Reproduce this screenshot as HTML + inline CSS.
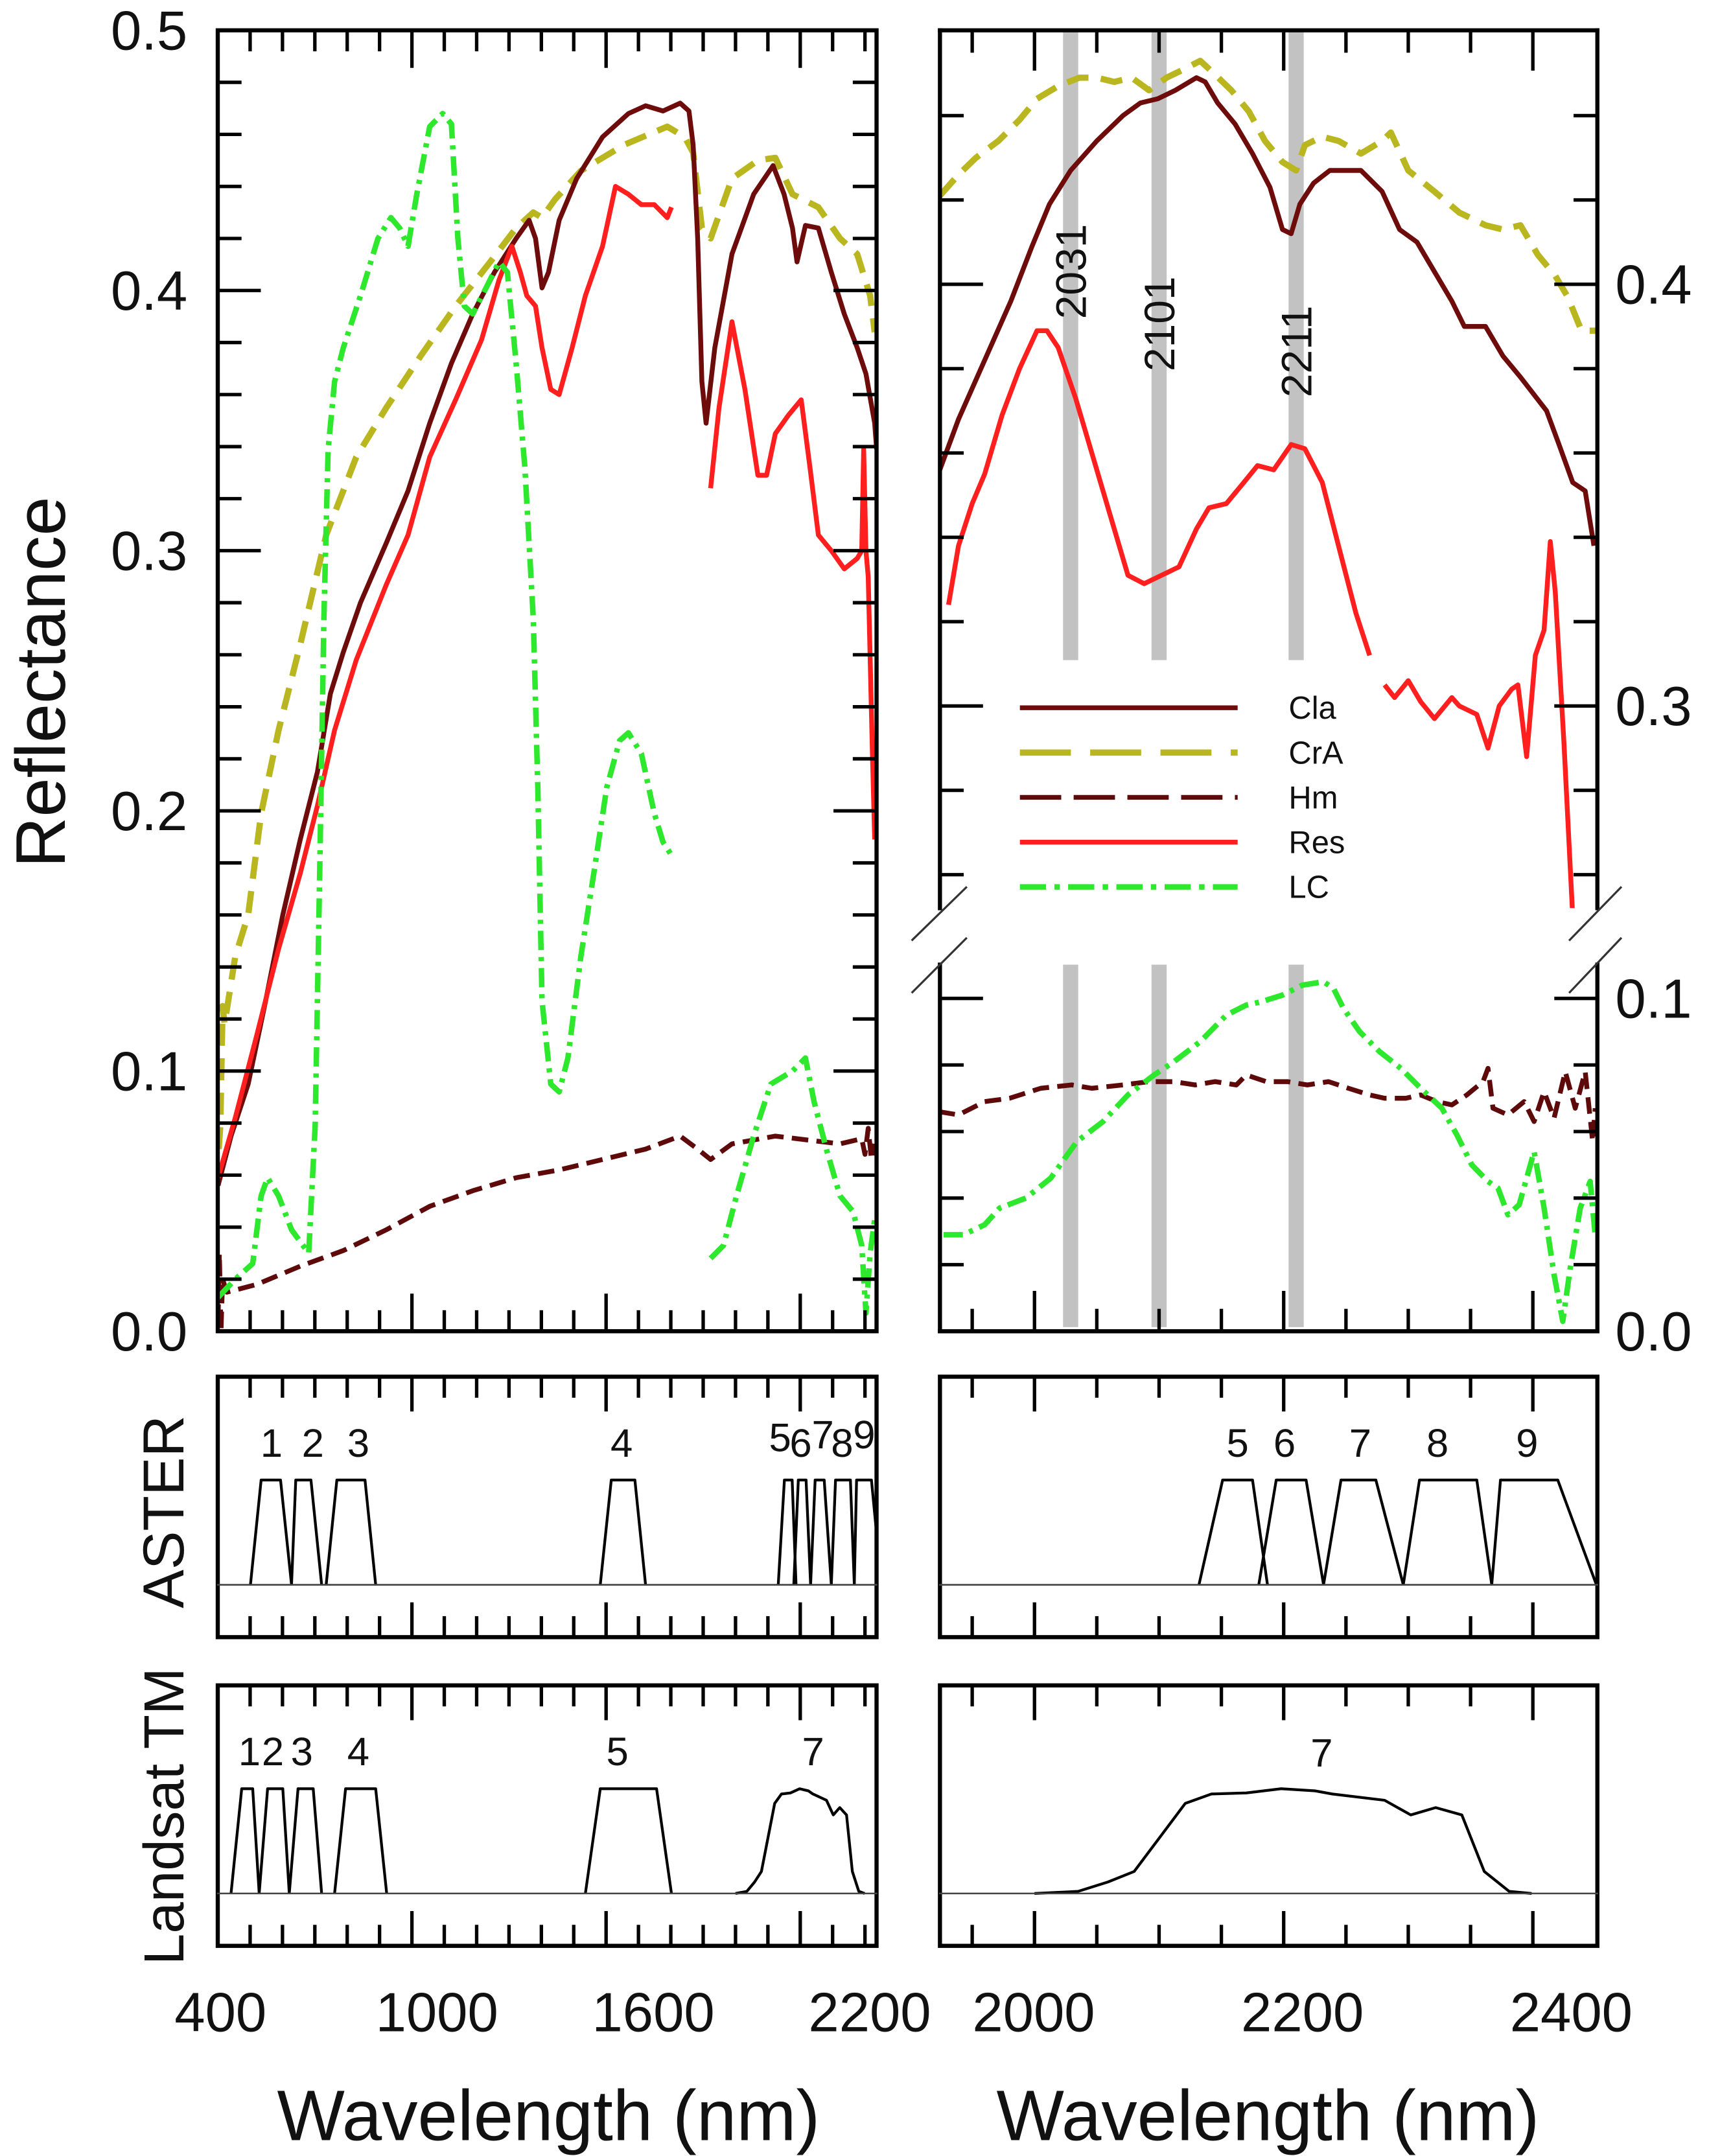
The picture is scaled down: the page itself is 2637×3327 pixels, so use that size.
<!DOCTYPE html>
<html>
<head>
<meta charset="utf-8">
<style>
  html,body{margin:0;padding:0;background:#fff;}
  svg{display:block;}
  text{font-family:"Liberation Sans", Arial, sans-serif;fill:#111;}
</style>
</head>
<body>
<svg id="chart" xmlns="http://www.w3.org/2000/svg" width="2637" height="3327" viewBox="0 0 1240 1564.5" preserveAspectRatio="none">
  <defs>
    <clipPath id="clipL"><rect x="158" y="22" width="478" height="944"/></clipPath>
    <clipPath id="clipRU"><rect x="682" y="22" width="477" height="637"/></clipPath>
    <clipPath id="clipRL"><rect x="682" y="700" width="477" height="266"/></clipPath>
    <clipPath id="clipAL"><rect x="158" y="999" width="478" height="189"/></clipPath>
    <clipPath id="clipAR"><rect x="682" y="999" width="477" height="189"/></clipPath>
    <clipPath id="clipTL"><rect x="158" y="1223" width="478" height="189"/></clipPath>
    <clipPath id="clipTR"><rect x="682" y="1223" width="477" height="189"/></clipPath>
  </defs>
  <g id="bars"></g>
  <g id="series"></g>
  <g id="bands"></g>
  <g id="axes"></g>
  <g id="labels">
    <text x="0" y="0" font-size="51" text-anchor="middle" transform="translate(47,495) rotate(-90)">Reflectance</text>
    <text x="0" y="0" font-size="42" text-anchor="middle" transform="translate(133,1097) rotate(-90)">ASTER</text>
    <text x="0" y="0" font-size="41" text-anchor="middle" transform="translate(133,1318) rotate(-90)">Landsat TM</text>
    <text x="398" y="1553" font-size="52" text-anchor="middle">Wavelength (nm)</text>
    <text x="920" y="1553" font-size="52" text-anchor="middle">Wavelength (nm)</text>
  </g>
  <g id="legend"></g>
</svg>
<script>
// ---------- data: left panel (wavelength nm, reflectance) ----------
const claLeft = [[401,.056],[441,.075],[494,.095],[548,.127],[601,.160],[655,.189],[708,.215],[748,.245],[788,.261],[841,.280],[921,.303],[988,.323],[1055,.349],[1122,.372],[1188,.391],[1255,.407],[1322,.420],[1362,.427],[1382,.420],[1402,.401],[1422,.407],[1455,.427],[1509,.443],[1589,.459],[1669,.468],[1722,.471],[1776,.469],[1829,.472],[1856,.469],[1869,.456],[1883,.420],[1896,.365],[1909,.349],[1936,.378],[1989,.414],[2056,.437],[2116,.448],[2150,.437],[2176,.424],[2190,.411],[2216,.425],[2256,.424],[2296,.407],[2336,.391],[2376,.378],[2403,.368],[2430,.349],[2436,.339]];
const craLeft = [[403,.07],[408,.079],[415,.125],[421,.118],[454,.144],[494,.160],[534,.199],[588,.231],[655,.264],[735,.306],[828,.336],[921,.355],[1028,.375],[1135,.394],[1242,.411],[1322,.424],[1375,.430],[1402,.428],[1442,.435],[1522,.446],[1656,.456],[1789,.463],[1843,.459],[1869,.453],[1896,.424],[1923,.420],[1989,.443],[2069,.450],[2123,.451],[2176,.437],[2256,.432],[2323,.420],[2376,.414],[2416,.398],[2430,.384]];
const hmLeft = [[401,.004],[405,.03],[410,.0],[415,.02],[428,.015],[521,.018],[655,.025],[788,.031],[921,.039],[1055,.048],[1188,.054],[1322,.059],[1455,.062],[1589,.066],[1722,.070],[1829,.075],[1883,.070],[1923,.066],[1989,.072],[2123,.075],[2256,.073],[2323,.072],[2390,.074],[2400,.068],[2410,.078],[2420,.066],[2430,.072]];
const resLeft1 = [[401,.059],[454,.082],[521,.114],[588,.147],[655,.176],[708,.202],[761,.231],[828,.258],[921,.287],[988,.306],[1055,.336],[1135,.358],[1215,.381],[1269,.404],[1309,.417],[1335,.407],[1355,.398],[1382,.394],[1402,.378],[1429,.362],[1455,.360],[1495,.378],[1536,.398],[1589,.417],[1629,.440],[1669,.437],[1709,.433],[1749,.433],[1789,.428],[1802,.432]];
const resLeft2 = [[1923,.324],[1949,.355],[1989,.388],[2029,.362],[2069,.329],[2096,.329],[2123,.345],[2163,.352],[2203,.358],[2230,.332],[2256,.306],[2296,.300],[2336,.293],[2376,.297],[2390,.300],[2396,.339],[2403,.300],[2410,.290],[2423,.222],[2430,.189]];
const lcLeft1 = [[401,.013],[454,.020],[508,.026],[534,.052],[554,.059],[588,.052],[628,.039],[681,.030],[701,.079],[715,.176],[728,.274],[741,.339],[761,.365],[788,.378],[841,.398],[895,.420],[935,.428],[962,.424],[988,.417],[1015,.437],[1055,.463],[1095,.468],[1122,.464],[1142,.420],[1162,.394],[1188,.391],[1229,.401],[1269,.411],[1295,.407],[1322,.372],[1349,.332],[1375,.274],[1389,.209],[1402,.127],[1429,.095],[1455,.092],[1482,.105],[1522,.144],[1562,.176],[1602,.209],[1642,.227],[1669,.230],[1709,.222],[1749,.199],[1776,.188],[1802,.183]];
const lcLeft2 = [[1923,.028],[1963,.033],[2003,.052],[2056,.075],[2109,.095],[2176,.100],[2216,.105],[2243,.088],[2283,.069],[2323,.052],[2363,.046],[2390,.033],[2403,.007],[2416,.030],[2430,.043]];

// ---------- data: right panel ----------
const claRight = [[1924,.356],[1939,.368],[1960,.382],[1981,.396],[1998,.409],[2012,.419],[2029,.427],[2050,.434],[2071,.440],[2085,.443],[2099,.444],[2113,.446],[2130,.449],[2137,.448],[2147,.443],[2161,.438],[2175,.431],[2189,.423],[2199,.413],[2206,.412],[2213,.419],[2224,.424],[2237,.427],[2262,.427],[2279,.422],[2293,.413],[2307,.410],[2321,.403],[2335,.396],[2345,.390],[2362,.390],[2376,.383],[2390,.378],[2411,.370],[2421,.362],[2432,.353],[2442,.351],[2449,.338]];
const craRight = [[1924,.421],[1939,.426],[1953,.430],[1971,.434],[1988,.439],[2002,.444],[2019,.447],[2036,.449],[2050,.449],[2064,.448],[2078,.449],[2092,.446],[2106,.449],[2120,.451],[2133,.453],[2144,.450],[2158,.446],[2172,.441],[2185,.434],[2199,.429],[2210,.427],[2217,.433],[2231,.435],[2244,.434],[2262,.431],[2279,.434],[2286,.436],[2300,.427],[2321,.422],[2341,.417],[2362,.414],[2376,.413],[2390,.414],[2404,.407],[2418,.402],[2428,.397],[2439,.389],[2451,.389]];
const resRight1 = [[1931,.324],[1939,.338],[1950,.348],[1960,.355],[1974,.369],[1988,.380],[2002,.389],[2010,.389],[2019,.385],[2033,.373],[2047,.359],[2061,.345],[2075,.331],[2088,.329],[2102,.331],[2116,.333],[2130,.342],[2140,.347],[2154,.348],[2168,.353],[2179,.357],[2192,.356],[2206,.362],[2217,.361],[2231,.353],[2244,.338],[2258,.322],[2269,.312]];
const resRight2 = [[2281,.305],[2289,.302],[2300,.306],[2310,.301],[2321,.297],[2335,.302],[2341,.300],[2355,.298],[2364,.290],[2373,.300],[2383,.304],[2388,.305],[2395,.288],[2402,.312],[2409,.318],[2414,.339],[2418,.327],[2425,.291],[2432,.250],[2434,.230]];
const lcRight = [[1927,.029],[1943,.029],[1960,.032],[1972,.037],[1993,.040],[2013,.046],[2034,.057],[2055,.063],[2075,.071],[2096,.077],[2112,.081],[2133,.087],[2154,.095],[2170,.098],[2182,.099],[2199,.101],[2215,.104],[2232,.105],[2240,.103],[2248,.097],[2261,.090],[2277,.084],[2294,.079],[2310,.073],[2327,.067],[2339,.059],[2351,.050],[2364,.045],[2372,.043],[2380,.035],[2389,.038],[2401,.054],[2409,.037],[2417,.017],[2424,.003],[2430,.019],[2438,.037],[2446,.045],[2450,.029]];
const hmRight = [[1923,.066],[1939,.065],[1960,.069],[1980,.070],[2005,.073],[2030,.074],[2046,.073],[2071,.074],[2092,.075],[2112,.075],[2129,.074],[2145,.075],[2162,.074],[2170,.077],[2186,.075],[2203,.075],[2219,.074],[2236,.075],[2252,.073],[2269,.071],[2281,.070],[2298,.070],[2310,.071],[2323,.069],[2335,.068],[2347,.071],[2360,.075],[2364,.079],[2368,.067],[2380,.065],[2393,.069],[2401,.063],[2409,.072],[2417,.064],[2426,.078],[2434,.067],[2442,.078],[2448,.057],[2450,.067]];

// ---------- absorption bars ----------
const barNm = [2029, 2100, 2210];
const barLabels = ["2031", "2101", "2211"];

// ---------- sensor bands [baseStart, topStart, topEnd, baseEnd] ----------
const asterBands = [[501,534,594,628],[628,641,688,721],[735,768,855,888],[1582,1616,1689,1722],[2132,2151,2175,2187],[2180,2194,2218,2232],[2232,2246,2274,2296],[2296,2309,2355,2367],[2367,2374,2420,2451]];
const asterNames = ["1","2","3","4","5","6","7","8","9"];
const tmBands = [[441,474,508,528],[528,554,601,621],[621,648,695,721],[761,795,888,922],[1536,1582,1756,1802]];
const tm7Nm = [2000,2035,2059,2080,2121,2142,2170,2198,2225,2239,2281,2302,2322,2343,2361,2381,2399];
const tm7H = [0,.02,.11,.21,.86,.95,.96,1.0,.98,.95,.89,.75,.82,.75,.21,.02,0];

// ---------- tick labels ----------
const leftYTicks = [0.0,0.1,0.2,0.3,0.4,0.5];
const leftXLabels = [400,1000,1600,2200];
const rightXLabels = [2000,2200,2400];
const rightUpperLabels = [0.4,0.3];
const rightLowerLabels = [0.1,0.0];

// ---------- scales ----------
const xL = nm => 158 + (nm-400)*0.2348;
const yL = r => 966 - r*1888;
const xR = nm => 750.6 + (nm-2000)*0.904;
const yRU = r => 206.3 + (0.4-r)*3060;
const yRL = r => 966 - r*2415;
const yA = h => 1150 - h*76;
const yT = h => 1374 - h*76;
const xLabL = v => 160 + (v-400)*0.2617;
const xLabR = v => 750 + (v-2000)*0.975;

const NS = "http://www.w3.org/2000/svg";
function mk(tag, parent, attrs){
  const el = document.createElementNS(NS, tag);
  for (const k in attrs) el.setAttribute(k, attrs[k]);
  parent.appendChild(el);
  return el;
}
function pathD(pts, xf, yf){
  return pts.map((p,i)=>(i?"L":"M")+xf(p[0]).toFixed(2)+","+yf(p[1]).toFixed(2)).join(" ");
}

const C = {cla:"#6e0c0c", cra:"#b9b61f", hm:"#5e0a0a", res:"#ff1f1f", lc:"#2ee82e"};
const DASH = {cra:"16 9", hm:"12 6", lc:"14 5 3 5", solid:"none"};

const barsG = document.getElementById("bars");
const seriesG = document.getElementById("series");
const bandsG = document.getElementById("bands");
const axesG = document.getElementById("axes");
const legendG = document.getElementById("legend");

// gray bars
barNm.forEach((nm,i)=>{
  const b1 = mk("rect", barsG, {x:xR(nm)-5.5, y:22, width:11, height:457, fill:"#c2c2c2"});
  
  
  const b2 = mk("rect", barsG, {x:xR(nm)-5.5, y:700, width:11, height:263, fill:"#c2c2c2"});
  
  
});

function drawSeries(pts, xf, yf, color, dash, width, clip, name){
  const p = mk("path", seriesG, {d:pathD(pts,xf,yf), fill:"none", stroke:color, "stroke-width":width, "stroke-dasharray":dash, "stroke-linejoin":"round", "clip-path":"url(#"+clip+")"});
  
  
}
// left panel
drawSeries(hmLeft, xL, yL, C.hm, DASH.hm, 3.5, "clipL", "hm-left-line");
drawSeries(craLeft, xL, yL, C.cra, DASH.cra, 4.5, "clipL", "cra-left-line");
drawSeries(claLeft, xL, yL, C.cla, DASH.solid, 3.5, "clipL", "cla-left-line");
drawSeries(resLeft1, xL, yL, C.res, DASH.solid, 3.5, "clipL", "res-left-line");
drawSeries(resLeft2, xL, yL, C.res, DASH.solid, 3.5, "clipL", "res-left-line-2");
drawSeries(lcLeft1, xL, yL, C.lc, DASH.lc, 4, "clipL", "lc-left-line");
drawSeries(lcLeft2, xL, yL, C.lc, DASH.lc, 4, "clipL", "lc-left-line-2");
// right panel
drawSeries(craRight, xR, yRU, C.cra, DASH.cra, 4.5, "clipRU", "cra-right-line");
drawSeries(claRight, xR, yRU, C.cla, DASH.solid, 3.5, "clipRU", "cla-right-line");
drawSeries(resRight1, xR, yRU, C.res, DASH.solid, 3.5, "clipRU", "res-right-line");
drawSeries(resRight2, xR, yRU, C.res, DASH.solid, 3.5, "clipRU", "res-right-line-2");
drawSeries(hmRight, xR, yRL, C.hm, DASH.hm, 3.5, "clipRL", "hm-right-line");
drawSeries(lcRight, xR, yRL, C.lc, DASH.lc, 4, "clipRL", "lc-right-line");

// bar labels
barNm.forEach((nm,i)=>{
  const yc = [197,235,255][i];
  const t = mk("text", barsG.parentNode, {x:0, y:0, "font-size":31, "text-anchor":"middle", transform:"translate("+(xR(nm)+11)+","+yc+") rotate(-90)"});
  t.textContent = barLabels[i];
  
  
});

// bands
function trap(b, xf, yf){
  return "M"+xf(b[0])+","+yf(0)+" L"+xf(b[1])+","+yf(1)+" L"+xf(b[2])+","+yf(1)+" L"+xf(b[3])+","+yf(0);
}
asterBands.forEach((b,i)=>{
  const p1 = mk("path", bandsG, {d:trap(b,xL,yA), fill:"none", stroke:"#000", "stroke-width":2, "stroke-linejoin":"round", "clip-path":"url(#clipAL)"});
  
  
  if (i >= 4){
    const p2 = mk("path", bandsG, {d:trap(b,xR,yA), fill:"none", stroke:"#000", "stroke-width":2, "stroke-linejoin":"round", "clip-path":"url(#clipAR)"});
    
    
  }
});
tmBands.forEach((b,i)=>{
  const p = mk("path", bandsG, {d:trap(b,xL,yT), fill:"none", stroke:"#000", "stroke-width":2, "stroke-linejoin":"round", "clip-path":"url(#clipTL)"});
  
  
});
const tm7Pts = tm7Nm.map((n,i)=>[n, tm7H[i]]);
const tm7a = mk("path", bandsG, {d:pathD(tm7Pts,xL,yT), fill:"none", stroke:"#000", "stroke-width":2, "stroke-linejoin":"round", "clip-path":"url(#clipTL)"});


const tm7b = mk("path", bandsG, {d:pathD(tm7Pts,xR,yT), fill:"none", stroke:"#000", "stroke-width":2, "stroke-linejoin":"round", "clip-path":"url(#clipTR)"});



// band number labels
function lbl(txt, x, y, size, name){
  const t = mk("text", bandsG, {x:x, y:y, "font-size":size, "text-anchor":"middle"});
  t.textContent = txt;
  
  
}
[["1",197,1057],["2",227,1057],["3",260,1057],["4",451,1057],["5",566,1053],["6",581,1057],["7",597,1051],["8",611,1057],["9",627,1051]].forEach(a=>lbl(a[0],a[1],a[2],29,"aster-label-left-"+a[0]));
[["5",898,1057],["6",932,1057],["7",987,1057],["8",1043,1057],["9",1108,1057]].forEach(a=>lbl(a[0],a[1],a[2],29,"aster-label-right-"+a[0]));
[["1",181,1281],["2",198,1281],["3",219,1281],["4",260,1281],["5",448,1281],["7",590,1281]].forEach(a=>lbl(a[0],a[1],a[2],29,"tm-label-left-"+a[0]));
lbl("7",959,1282,29,"tm-label-right-7");

// ---------- axes ----------
function line(x1,y1,x2,y2,w,name,color){
  const l = mk("line", axesG, {x1:x1,y1:y1,x2:x2,y2:y2,stroke:color||"#000","stroke-width":w,"stroke-linecap":"square"});
  
  
}
function frame(x0,y0,x1,y1,name){
  const r = mk("rect", axesG, {x:x0,y:y0,width:x1-x0,height:y1-y0,fill:"none",stroke:"#000","stroke-width":3});
  
  
}
frame(158,22,636,966,"left-plot-frame");
frame(158,999,636,1188,"aster-left-frame");
frame(682,999,1159,1188,"aster-right-frame");
frame(158,1223,636,1412,"tm-left-frame");
frame(682,1223,1159,1412,"tm-right-frame");
// right broken frame
line(682,22,1159,22,3,"right-plot-top");
line(682,966,1159,966,3,"right-plot-bottom");
line(682,22,682,659,3,"right-plot-left-upper");
line(682,700,682,966,3,"right-plot-left-lower");
line(1159,22,1159,659,3,"right-plot-right-upper");
line(1159,700,1159,966,3,"right-plot-right-lower");
line(662,682,701,644,1.5,"axis-break-left-1","#333");
line(662,720,701,681,1.5,"axis-break-left-2","#333");
line(1139,682,1176,644,1.5,"axis-break-right-1","#333");
line(1139,720,1176,681,1.5,"axis-break-right-2","#333");
// baselines
line(158,1150,636,1150,1.2,"aster-left-baseline","#444");
line(682,1150,1159,1150,1.2,"aster-right-baseline","#444");
line(158,1374,636,1374,1.2,"tm-left-baseline","#444");
line(682,1374,1159,1374,1.2,"tm-right-baseline","#444");

// x ticks
function xTicks(xf, from, to, step, isMajor, y0, y1, mj, mn, name){
  for (let v=from; v<=to; v+=step){
    const x = xf(v); const L = isMajor(v)?mj:mn;
    line(x,y0,x,y0+L,2.5,name+"-top-"+v);
    line(x,y1,x,y1-L,2.5,name+"-bottom-"+v);
  }
}
const majL = v => (v-400)%600===0;
const majR = v => v%200===0;
xTicks(xL,500,2400,100,majL,22,966,26,14,"left-x-tick");
xTicks(xL,500,2400,100,majL,999,1188,24,14,"aster-left-x-tick");
xTicks(xL,500,2400,100,majL,1223,1412,24,14,"tm-left-x-tick");
xTicks(xR,1950,2400,50,majR,22,966,28,15,"right-x-tick");
xTicks(xR,1950,2400,50,majR,999,1188,24,14,"aster-right-x-tick");
xTicks(xR,1950,2400,50,majR,1223,1412,24,14,"tm-right-x-tick");

// y ticks
function yTick(y, x0, x1, major, mj, mn, name){
  const L = major?mj:mn;
  line(x0,y,x0+L,y,2.5,name+"-l");
  line(x1,y,x1-L,y,2.5,name+"-r");
}
for (let i=1;i<25;i++){ yTick(yL(i*0.02),158,636,i%5===0,30,16,"left-y-tick-"+i); }
for (let i=13;i<=22;i++){ const r=i*0.02; yTick(yRU(r),682,1159,i%5===0,30,16,"right-upper-y-tick-"+i); }
for (let i=1;i<=5;i++){ const r=i*0.02; yTick(yRL(r),682,1159,i%5===0,30,16,"right-lower-y-tick-"+i); }

// tick labels
function tl(txt,x,y,anchor,name){
  const t = mk("text", axesG, {x:x,y:y,"font-size":40,"text-anchor":anchor});
  t.textContent = txt;
  
  
}
leftYTicks.forEach(v=>tl(v.toFixed(1),136,yL(v)+14,"end","left-y-label-"+v.toFixed(1)));
rightUpperLabels.forEach(v=>tl(v.toFixed(1),1172,yRU(v)+14,"start","right-y-label-"+v.toFixed(1)));
rightLowerLabels.forEach(v=>tl(v.toFixed(1),1172,yRL(v)+14,"start","right-y-label-"+v.toFixed(1)));
leftXLabels.forEach(v=>tl(String(v),xLabL(v),1474,"middle","left-x-label-"+v));
rightXLabels.forEach(v=>tl(String(v),xLabR(v),1474,"middle","right-x-label-"+v));

// ---------- legend ----------
const legNames = ["Cla","CrA","Hm","Res","LC"];
const legColors = [C.cla, C.cra, C.hm, C.res, C.lc];
const legDash = ["none","37 14","30 9","none","19 6 4 6"];
const legWidth = [3.5,4.5,3.5,3.5,4];
legNames.forEach((n,i)=>{
  const y = 513.6 + i*32.5;
  const l = mk("line", legendG, {x1:740,y1:y,x2:898,y2:y,stroke:legColors[i],"stroke-width":legWidth[i],"stroke-dasharray":legDash[i]});
  
  
  const t = mk("text", legendG, {x:935,y:y+8,"font-size":23});
  t.textContent = n;
  
  
});
</script>
</body>
</html>
